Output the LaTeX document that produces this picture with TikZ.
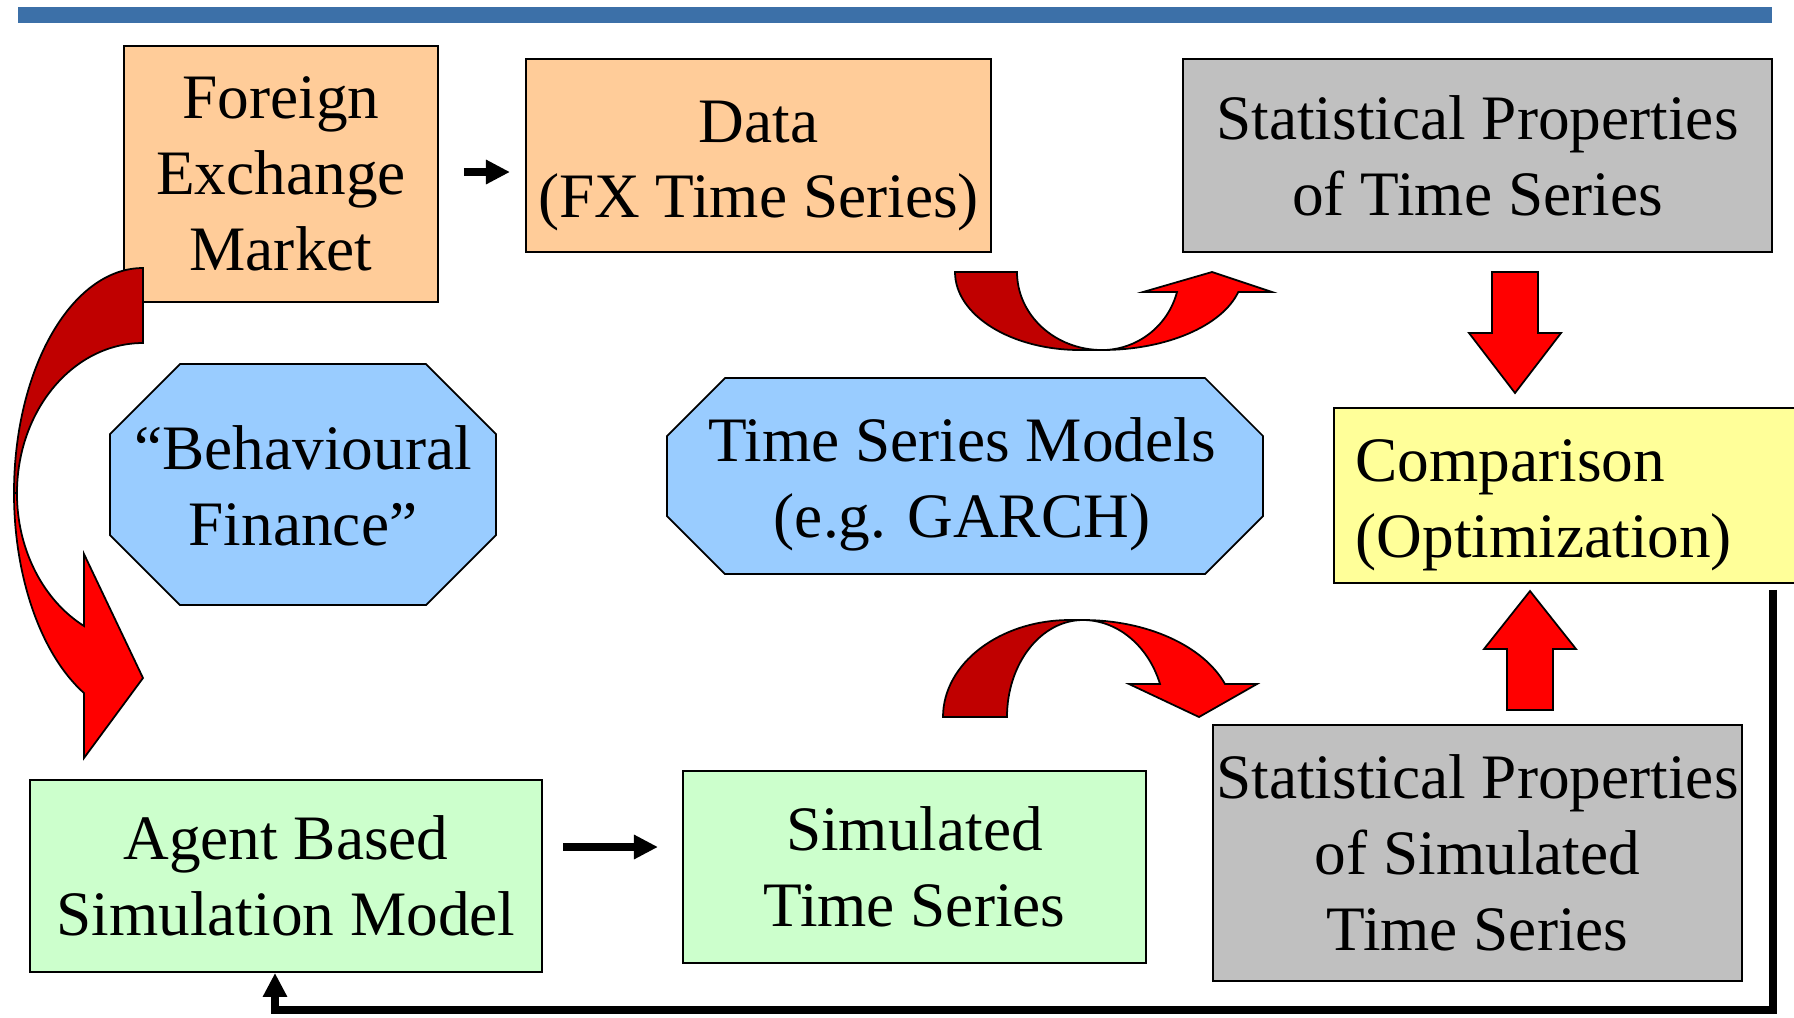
\documentclass[tikz,border=0pt]{standalone}
\usepackage{fontspec}
\setmainfont{Liberation Serif}
\usetikzlibrary{arrows.meta}

\definecolor{naranja}{HTML}{FFCC99}
\definecolor{gris}{HTML}{C0C0C0}
\definecolor{celeste}{HTML}{99CCFF}
\definecolor{amarillo}{HTML}{FFFF99}
\definecolor{verde}{HTML}{CCFFCC}
\definecolor{barra}{HTML}{3C70A8}
\definecolor{rojo}{HTML}{FF0000}
\definecolor{rojooscuro}{HTML}{C00000}

\begin{document}
\begin{tikzpicture}[x=0.01cm, y=-0.01cm,
    caja/.style={draw, line width=0.5pt, align=center, inner sep=0pt,
                 font=\fontsize{18}{21.6}\selectfont},
    texto/.style={align=center, inner sep=0pt, font=\fontsize{18}{21.6}\selectfont},
    octa/.style={draw, line width=0.5pt, fill=celeste},
    flecha/.style={draw=black, line width=0.5pt, fill=rojo},
    flechaosc/.style={draw=black, line width=0.5pt, fill=rojooscuro},
    conector/.style={line width=0.085cm, -{Triangle[length=0.24cm, width=0.23cm]}}]

    % Marco de la figura
    \useasboundingbox (0,0) rectangle (1794,1017);
    \clip (0,0) rectangle (1794,1017);

    % Barra superior
    \fill[barra] (18,7) rectangle (1772,23);

    % Cajas de la fila superior
    \node[caja, fill=naranja, minimum width=3.14cm, minimum height=2.56cm] (fx) at (281,174) {Foreign\\Exchange\\Market};
    \node[caja, fill=naranja, minimum width=4.65cm, minimum height=1.93cm] (data) at (758.5,155.5) {};
    \node[texto] (datatxt) at (758.5,166) {Data\\(FX Time Series)};
    \node[caja, fill=gris, minimum width=5.89cm, minimum height=1.93cm] (stat) at (1477.5,155.5) {Statistical Properties\\of Time Series};

    % Octagonos (modelos)
    \draw[octa] (180,364) -- (426,364) -- (496,434) -- (496,535) -- (426,605) -- (180,605) -- (110,535) -- (110,434) -- cycle;
    \node[texto] (behav) at (303,486) {“Behavioural\\Finance”};
    \draw[octa] (725,378) -- (1205,378) -- (1263,436) -- (1263,516) -- (1205,574) -- (725,574) -- (667,516) -- (667,436) -- cycle;
    \node[texto] (tsm) at (962,484) {Time Series Models\\(e.g. GARCH)};

    % Caja de comparacion
    \node[caja, fill=amarillo, anchor=west, minimum width=4.67cm, minimum height=1.75cm] (comp) at (1333,495.5) {};
    \node[texto, anchor=west, align=left] (comptxt) at (1355,505) {Comparison\\(Optimization)};

    % Cajas de la fila inferior
    \node[caja, fill=verde, minimum width=5.12cm, minimum height=1.92cm] (agent) at (286,876) {Agent Based\\Simulation Model};
    \node[caja, fill=verde, minimum width=4.63cm, minimum height=1.92cm] (simts) at (914.5,867) {Simulated\\Time Series};
    \node[caja, fill=gris, minimum width=5.29cm, minimum height=2.56cm] (statsim) at (1477.5,853) {Statistical Properties\\of Simulated\\Time Series};

    % Conectores negros
    \draw[conector, shorten <=0.25cm, shorten >=0.15cm] ([yshift=0.02cm]fx.east) -- ([yshift=0.02cm]fx.east -| data.west);
    \draw[conector, shorten <=0.2cm, shorten >=0.24cm] ([yshift=0.29cm]agent.east) -- ([yshift=0.29cm]agent.east -| simts.west);
    \coordinate (fbcorner) at (275,1010);
    \draw[conector] ([xshift=-0.29cm,yshift=-0.06cm]comp.south east) |- (fbcorner) -- (fbcorner |- agent.south);

    % Flecha curva izquierda
    \draw[flechaosc] (143,268) arc[start angle=270, end angle=180, x radius=129, y radius=225]
        -- (17,493) arc[start angle=180, end angle=270, x radius=126, y radius=150] -- cycle;
    \draw[flecha] (14,493) arc[start angle=180, end angle=117.2, x radius=129, y radius=225]
        -- (84,758) -- (143,678) -- (84,554) -- (84,626)
        arc[start angle=117.9, end angle=180, x radius=126, y radius=150] -- cycle;

    % Flecha curva superior
    \draw[flechaosc] (955,272) arc[start angle=180, end angle=90, x radius=125, y radius=78]
        -- (1102,350) arc[start angle=90, end angle=180, x radius=85, y radius=78] -- cycle;
    \draw[flecha] (1102,350) arc[start angle=90, end angle=14.8, x radius=141, y radius=78]
        -- (1272,292) -- (1212,272) -- (1143,292) -- (1177,292)
        arc[start angle=14.8, end angle=90, x radius=78, y radius=78] -- cycle;

    % Flecha curva inferior
    \draw[flechaosc] (943,717) arc[start angle=180, end angle=270, x radius=127, y radius=97]
        -- (1083,620) arc[start angle=270, end angle=180, x radius=76, y radius=97] -- cycle;
    \draw[flecha] (1083,620) arc[start angle=270, end angle=340.1, x radius=151, y radius=97]
        -- (1257,684) -- (1199,717) -- (1129,684) -- (1160,684)
        arc[start angle=340.1, end angle=270, x radius=82, y radius=97] -- cycle;

    % Flechas rectas rojas
    \draw[flecha] (1492,272) -- (1538,272) -- (1538,333) -- (1561,333) -- (1515,393) -- (1469,333) -- (1492,333) -- cycle;
    \draw[flecha] (1507,710) -- (1553,710) -- (1553,649) -- (1576,649) -- (1530,591) -- (1484,649) -- (1507,649) -- cycle;
\end{tikzpicture}
\end{document}
